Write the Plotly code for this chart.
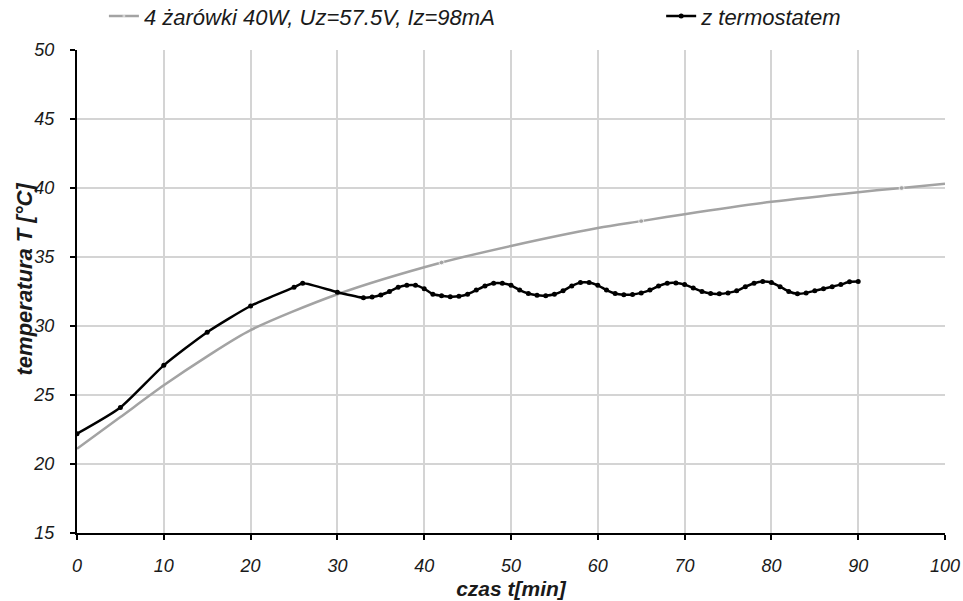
import plotly.graph_objects as go

# Gray series: 4 żarówki 40W
t_gray = [0, 5, 10, 15, 20, 30, 42, 50, 60, 65, 70, 80, 90, 95, 100]
T_gray = [21.1, 23.4, 25.7, 27.8, 29.7, 32.3, 34.6, 35.8, 37.1, 37.6, 38.1, 39.0, 39.7, 40.0, 40.3]
gray_marker_visible = [0, 0, 0, 0, 0, 0, 1, 0, 0, 1, 0, 0, 0, 1, 0]

# Black series: z termostatem
t_black = [0, 5, 10, 15, 20, 25, 26, 30, 33, 34, 35, 36, 37, 38, 39, 40, 41, 42, 43, 44,
           45, 46, 47, 48, 49, 50, 51, 52, 53, 54, 55, 56, 57, 58, 59, 60, 61, 62, 63, 64,
           65, 66, 67, 68, 69, 70, 71, 72, 73, 74, 75, 76, 77, 78, 79, 80, 81, 82, 83, 84,
           85, 86, 87, 88, 89, 90]
T_black = [22.2, 24.1, 27.15, 29.55, 31.45, 32.8, 33.1, 32.45, 32.05, 32.1, 32.25, 32.5, 32.8, 32.95, 32.95, 32.7, 32.3, 32.2, 32.12, 32.15,
           32.3, 32.6, 32.9, 33.1, 33.1, 32.95, 32.6, 32.35, 32.22, 32.2, 32.3, 32.55, 32.9, 33.15, 33.15, 32.95, 32.6, 32.35, 32.27, 32.28,
           32.4, 32.6, 32.9, 33.1, 33.12, 33.0, 32.75, 32.5, 32.35, 32.33, 32.4, 32.55, 32.85, 33.1, 33.22, 33.15, 32.85, 32.5, 32.33, 32.4,
           32.55, 32.7, 32.85, 33.0, 33.2, 33.22]

x_ticks = list(range(0, 101, 10))
y_ticks = list(range(15, 51, 5))

x_title = "czas t[min]"
y_title = "temperatura T [°C]"

FONT = "Liberation Sans, Arial, sans-serif"
TXT = "#1a1a1a"

fig = go.Figure()
fig.add_trace(go.Scatter(
    x=t_gray, y=T_gray, mode="lines+markers",
    name="4 żarówki 40W, Uz=57.5V, Iz=98mA",
    line=dict(color="#a3a3a3", width=2.5, shape="spline", smoothing=0.8),
    marker=dict(color="#a3a3a3", size=[5 * v for v in gray_marker_visible]),
    legend="legend", showlegend=True,
))
fig.add_trace(go.Scatter(
    x=t_black, y=T_black, mode="lines+markers",
    name="z termostatem",
    line=dict(color="#000000", width=2.5, shape="spline", smoothing=0.6),
    marker=dict(color="#000000", size=5),
    legend="legend2", showlegend=True,
))

axis_common = dict(
    showline=True, linecolor="black", linewidth=2,
    showgrid=True, gridcolor="#d4d4d4", gridwidth=1.5,
    ticks="outside", ticklen=5, tickwidth=1.5, tickcolor="black",
    zeroline=False,
    tickfont=dict(family=FONT, size=18, color=TXT, style="italic"),
)

fig.update_xaxes(range=[0, 100], tickvals=x_ticks, ticktext=[str(v) for v in x_ticks],
                 ticklabelstandoff=10,
                 title=dict(text="<b>" + x_title + "</b>", font=dict(family=FONT, size=21, color=TXT, style="italic"), standoff=7),
                 **axis_common)
fig.update_yaxes(range=[15, 50], tickvals=y_ticks, ticktext=[str(v) for v in y_ticks],
                 ticklabelposition="outside", ticklabelstandoff=12,
                 **axis_common)

fig.add_annotation(
    text="<b>" + y_title + "</b>", textangle=-90,
    xref="paper", yref="paper", x=-0.061, y=0.525, xanchor="center", yanchor="middle",
    showarrow=False, font=dict(family=FONT, size=22, color=TXT, style="italic"),
)

legend_font = dict(family=FONT, size=22, color=TXT, style="italic")
fig.update_layout(
    width=963, height=601,
    margin=dict(l=77, r=18, t=50, b=68, autoexpand=False),
    paper_bgcolor="white", plot_bgcolor="white",
    showlegend=True,
    legend=dict(x=0.031, y=1.07, xanchor="left", yanchor="middle", font=legend_font,
                bgcolor="rgba(0,0,0,0)", itemwidth=30),
    legend2=dict(x=0.673, y=1.07, xanchor="left", yanchor="middle", font=legend_font,
                 bgcolor="rgba(0,0,0,0)", itemwidth=30),
)

fig.write_html("out.html")
